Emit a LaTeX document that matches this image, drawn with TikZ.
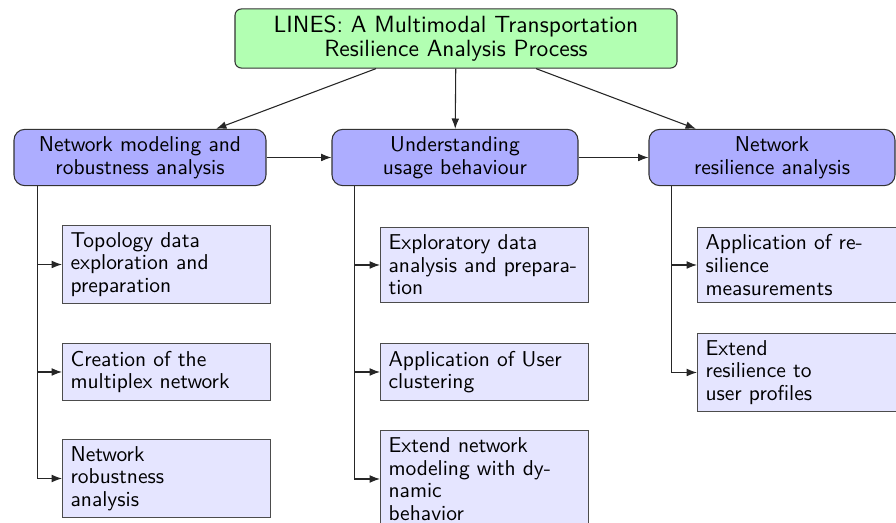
\documentclass[tikz,border=0pt]{standalone}
\usetikzlibrary{arrows.meta}
\def\pxu{0.465pt}
\begin{document}
\begin{tikzpicture}[x=0.465pt,y=-0.465pt,
  font=\sffamily\fontsize{10}{10.5}\selectfont,
  every node/.style={line width=0.5pt},
  topbox/.style={draw=black!80, fill=green!30, rounded corners=3pt, minimum width=442*\pxu, minimum height=53*\pxu, align=center, font=\sffamily\fontsize{10.9}{10.8}\selectfont},
  phase/.style={draw=black!80, fill=blue!32, rounded corners=5pt, minimum height=53*\pxu, align=center},
  task/.style={draw=black!70, fill=blue!10, text width=192*\pxu, inner xsep=8*\pxu, align=left, anchor=west},
  arr/.style={-{Latex[length=4.8pt,width=3.6pt]}, line width=0.5pt, draw=black!85}]
\useasboundingbox (0,0) rectangle (896,523);
\node[topbox] (top) at (456,38.5) {LINES: A Multimodal Transportation\\Resilience Analysis Process};
\node[phase, minimum width=252*\pxu] (p1) at (140,157.5) {Network modeling and\\robustness analysis};
\node[phase, minimum width=246*\pxu] (p2) at (455,157.5) {Understanding\\usage behaviour};
\node[phase, minimum width=246*\pxu] (p3) at (772,157.5) {Network\\resilience analysis};
\node[task, minimum height=75*\pxu] (a1) at (62,264.5) {Topology data\\exploration and\\preparation};
\node[task, minimum height=52*\pxu] (a2) at (62,372) {Creation of the\\multiplex network};
\node[task, minimum height=75*\pxu] (a3) at (62,478.5) {Network\\robustness\\analysis};
\node[task, minimum height=73*\pxu] (b1) at (380,265) {Exploratory data\\analysis and prepara-\\tion};
\node[task, minimum height=52*\pxu] (b2) at (380,372) {Application of User\\clustering};
\node[task, minimum height=94*\pxu] (b3) at (380,479) {Extend network\\modeling with dy-\\namic\\behavior};
\node[task, minimum height=73*\pxu] (c1) at (697,265) {Application of re-\\silience\\measurements};
\node[task, minimum height=75*\pxu] (c2) at (697,372.5) {Extend\\resilience to\\user profiles};
\draw[arr] (top) -- (p1);
\draw[arr] (top) -- (p2);
\draw[arr] (top) -- (p3);
\draw[arr] (p1) -- (p2);
\draw[arr] (p2) -- (p3);
\coordinate (s1) at ([xshift=24*\pxu]p1.south west);
\coordinate (s2) at ([xshift=23*\pxu]p2.south west);
\coordinate (s3) at ([xshift=23*\pxu]p3.south west);
\draw[arr] (s1) |- (a1.west);
\draw[arr] (s1) |- (a2.west);
\draw[arr] (s1) |- (a3.west);
\draw[arr] (s2) |- (b1.west);
\draw[arr] (s2) |- (b2.west);
\draw[arr] (s2) |- (b3.west);
\draw[arr] (s3) |- (c1.west);
\draw[arr] (s3) |- (c2.west);
\end{tikzpicture}
\end{document}
